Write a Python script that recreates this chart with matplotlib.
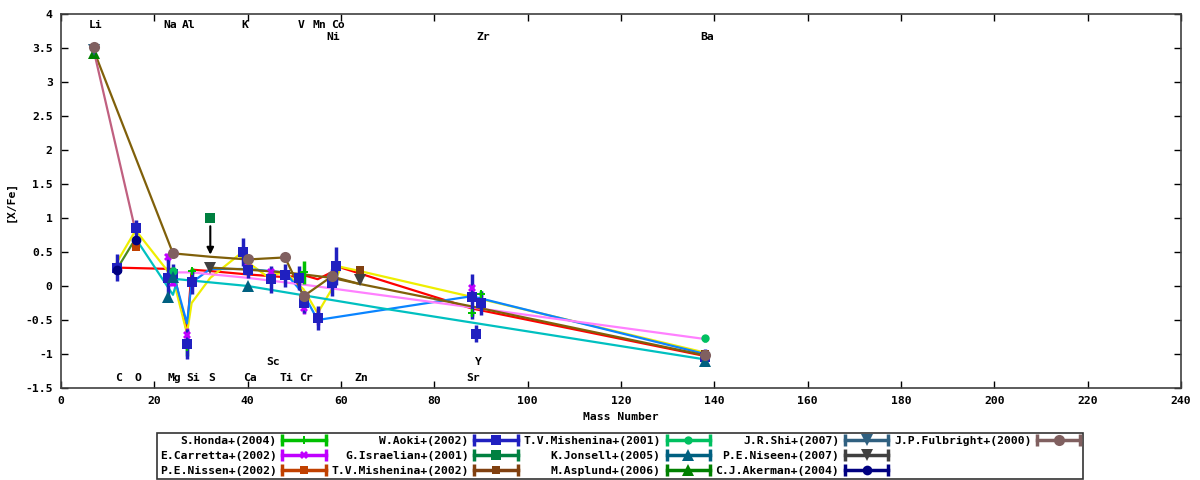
import matplotlib
matplotlib.use('Agg')
import matplotlib.pyplot as plt
from matplotlib.lines import Line2D
from matplotlib.legend_handler import HandlerLine2D

plt.rcParams['font.family'] = ['DejaVu Sans Mono', 'DejaVu Sans']
plt.rcParams['font.weight'] = 'bold'
plt.rcParams['font.size'] = 8.2

# element labels: name, mass, row (0 top, 1 second, 2 low, 3 lowest)
elem_names = ["Li", "Na", "Al", "K", "V", "Mn", "Co", "Ni", "Zr", "Ba",
              "C", "O", "Mg", "Si", "S", "Ca", "Ti", "Cr", "Zn", "Sr", "Sc", "Y"]
elem_mass = [7, 23, 27, 39, 51, 55, 59, 58, 90, 138,
             12, 16, 24, 28, 32, 40, 48, 52, 64, 88, 45, 89]
elem_row = [0, 0, 0, 0, 0, 0, 0, 1, 1, 1,
            3, 3, 3, 3, 3, 3, 3, 3, 3, 3, 2, 2]

# observations: mass, [X/Fe], error
honda_m = [27, 28, 52, 88, 90]
honda_v = [-0.9, 0.22, 0.2, -0.4, -0.12]
honda_e = [0.13, 0.04, 0.17, 0.04, 0.04]

carretta_m = [23, 24, 27, 40, 45, 52, 55, 88]
carretta_v = [0.42, 0.05, -0.72, 0.34, 0.2, -0.33, -0.45, -0.03]
carretta_e = [0.07, 0.05, 0.1, 0.04, 0.05, 0.08, 0.12, 0.04]

nissen02_m = [16]
nissen02_v = [0.57]
nissen02_e = [0.04]

aoki_m = [12, 16, 23, 24, 27, 28, 39, 40, 45, 48, 51, 52, 55, 58, 59, 88, 89, 90, 138]
aoki_v = [0.27, 0.85, 0.12, 0.18, -0.85, 0.06, 0.5, 0.24, 0.1, 0.16, 0.12, -0.25,
          -0.47, 0.05, 0.3, -0.16, -0.7, -0.25, -1.05]
aoki_e = [0.2, 0.12, 0.28, 0.15, 0.22, 0.18, 0.2, 0.12, 0.2, 0.17, 0.18, 0.15,
          0.17, 0.2, 0.28, 0.33, 0.13, 0.18, 0.12]

israelian_m = [32]
israelian_v = [1.0]
israelian_e = [0.0]

mish02_m = [64, 138]
mish02_v = [0.24, -1.0]
mish02_e = [0.06, 0.04]

mish01_m = [24, 138]
mish01_v = [0.22, -0.77]
mish01_e = [0.06, 0.05]

jonsell_m = [23, 24, 40, 138]
jonsell_v = [-0.16, 0.13, 0.0, -1.1]
jonsell_e = [0.03, 0.03, 0.03, 0.03]

asplund_m = [7]
asplund_v = [3.42]
asplund_e = [0.03]

shi_m = [7]
shi_v = [3.47]
shi_e = [0.03]

niseen07_m = [32, 64]
niseen07_v = [0.27, 0.09]
niseen07_e = [0.03, 0.03]

akerman_m = [12, 16]
akerman_v = [0.23, 0.67]
akerman_e = [0.05, 0.05]

fulbright_m = [7, 24, 40, 48, 52, 58, 138]
fulbright_v = [3.52, 0.48, 0.39, 0.42, -0.15, 0.14, -1.02]
fulbright_e = [0.03, 0.03, 0.03, 0.03, 0.03, 0.03, 0.03]

# model curves
red_m = [12, 24, 27, 28, 32, 40, 48, 52, 55, 60, 88, 138]
red_v = [0.27, 0.25, -0.68, 0.24, 0.22, 0.17, 0.13, 0.16, 0.1, 0.27, -0.33, -1.03]
yellow_m = [12, 16, 24, 27, 28, 32, 38, 44, 48, 52, 55, 58, 60, 64, 88, 138]
yellow_v = [0.35, 0.82, 0.12, -0.7, -0.25, 0.12, 0.45, 0.15, 0.2, -0.05, -0.4,
            -0.05, 0.28, 0.22, -0.16, -0.98]
blue_m = [24, 27, 28, 32, 40, 48, 52, 55, 88, 138]
blue_v = [0.2, -0.55, 0.05, 0.25, 0.25, 0.2, -0.12, -0.5, -0.15, -1.0]
pink_m = [24, 28, 40, 52, 138]
pink_v = [0.2, 0.2, 0.12, 0.02, -0.78]
cyan_m = [16, 24, 25, 40, 68, 138]
cyan_v = [0.7, -0.13, 0.1, 0.0, -0.32, -1.08]
olive1_m = [7, 24, 32, 40, 48, 52, 58, 64, 88, 138]
olive1_v = [3.47, 0.48, 0.43, 0.39, 0.42, -0.15, 0.14, 0.03, -0.3, -1.02]
olive2_m = [32, 40, 48, 52, 58, 64]
olive2_v = [0.27, 0.24, 0.2, 0.17, 0.12, 0.03]
drab_m = [12, 16]
drab_v = [0.25, 0.7]
mauve_m = [7, 16]
mauve_v = [3.47, 0.8]

fig = plt.figure(figsize=(12, 4.8), dpi=100)
ax = fig.add_axes([0.0508, 0.1917, 0.9334, 0.7791])

models = [
    (red_m, red_v, '#ff0000'),
    (yellow_m, yellow_v, '#eeee00'),
    (blue_m, blue_v, '#0a84ff'),
    (pink_m, pink_v, '#ff80ff'),
    (cyan_m, cyan_v, '#00c0c0'),
    (olive2_m, olive2_v, '#80600a'),
    (olive1_m, olive1_v, '#80600a'),
    (drab_m, drab_v, '#4a8a20'),
    (mauve_m, mauve_v, '#c06080'),
]
for mm, vv, col in models:
    ax.plot(mm, vv, color=col, lw=1.6, zorder=2)

obs = [
    ("S.Honda+(2004)", honda_m, honda_v, honda_e, '#00c000', 'P', 6),
    ("E.Carretta+(2002)", carretta_m, carretta_v, carretta_e, '#c000ff', 'X', 6),
    ("P.E.Nissen+(2002)", nissen02_m, nissen02_v, nissen02_e, '#c04000', 's', 6),
    ("W.Aoki+(2002)", aoki_m, aoki_v, aoki_e, '#2020c0', 's', 7),
    ("G.Israelian+(2001)", israelian_m, israelian_v, israelian_e, '#008040', 's', 7),
    ("T.V.Mishenina+(2002)", mish02_m, mish02_v, mish02_e, '#804010', 's', 6),
    ("T.V.Mishenina+(2001)", mish01_m, mish01_v, mish01_e, '#00c060', 'o', 6),
    ("K.Jonsell+(2005)", jonsell_m, jonsell_v, jonsell_e, '#006080', '^', 8),
    ("M.Asplund+(2006)", asplund_m, asplund_v, asplund_e, '#008000', '^', 8),
    ("J.R.Shi+(2007)", shi_m, shi_v, shi_e, '#306080', 'v', 8),
    ("P.E.Niseen+(2007)", niseen07_m, niseen07_v, niseen07_e, '#404040', 'v', 8),
    ("C.J.Akerman+(2004)", akerman_m, akerman_v, akerman_e, '#000080', 'o', 7),
    ("J.P.Fulbright+(2000)", fulbright_m, fulbright_v, fulbright_e, '#806060', 'o', 8),
]

handles, labels, hmap = [], [], {}
for name, mm, vv, ee, col, mk, ms in obs:
    ax.errorbar(mm, vv, yerr=ee, fmt=mk, color=col, ms=ms, mew=0,
                elinewidth=2.5, capsize=3, capthick=2.5, zorder=3)
    cap = Line2D([], [], color=col, lw=2.5, marker='|', ms=8, mew=2.5)
    mark = Line2D([], [], color=col, ls='none', marker=mk, ms=ms, mew=0)
    hmap[cap] = HandlerLine2D(numpoints=2, marker_pad=0)
    handles.append((cap, mark))
    labels.append(name)
for _ in range(2):
    handles.append(Line2D([], [], ls='none'))
    labels.append('')

# upper limit arrow on S
ax.annotate('', xy=(israelian_m[0], 0.42), xytext=(israelian_m[0], 0.92),
            arrowprops=dict(arrowstyle='-|>', color='black', lw=1.5,
                            mutation_scale=10), zorder=4)

row_y = [3.84, 3.66, -1.12, -1.35]
for nm, mm, r in zip(elem_names, elem_mass, elem_row):
    ax.text(mm + 0.4, row_y[r], nm, ha='center', va='center', fontsize=8.2,
            fontweight='bold')

ax.set_xlim(0, 240)
ax.set_ylim(-1.5, 4)
ax.set_xticks(range(0, 241, 20))
ax.set_yticks([-1.5, -1, -0.5, 0, 0.5, 1, 1.5, 2, 2.5, 3, 3.5, 4])
ax.set_yticklabels(['-1.5', '-1', '-0.5', '0', '0.5', '1', '1.5', '2',
                    '2.5', '3', '3.5', '4'])
ax.tick_params(direction='in', top=True, right=True, length=5, width=1,
               labelsize=8.2, pad=6)
for sp in ax.spines.values():
    sp.set_color('#404040')
    sp.set_linewidth(1.2)
ax.set_xlabel('Mass Number', fontsize=8.2, fontweight='bold', labelpad=4)
ax.set_ylabel('[X/Fe]', fontsize=8.2, fontweight='bold', labelpad=7)

leg = ax.legend(handles, labels, handler_map=hmap, ncol=5, loc='center',
                bbox_to_anchor=(0.5167, 0.05), bbox_transform=fig.transFigure,
                markerfirst=False, fancybox=False, edgecolor='black',
                fontsize=8.2, handlelength=3.8, columnspacing=0.5,
                labelspacing=0.42, borderpad=0.25, handletextpad=0.5)
leg.get_frame().set_linewidth(1.2)

fig.savefig('out.png', dpi=100)
